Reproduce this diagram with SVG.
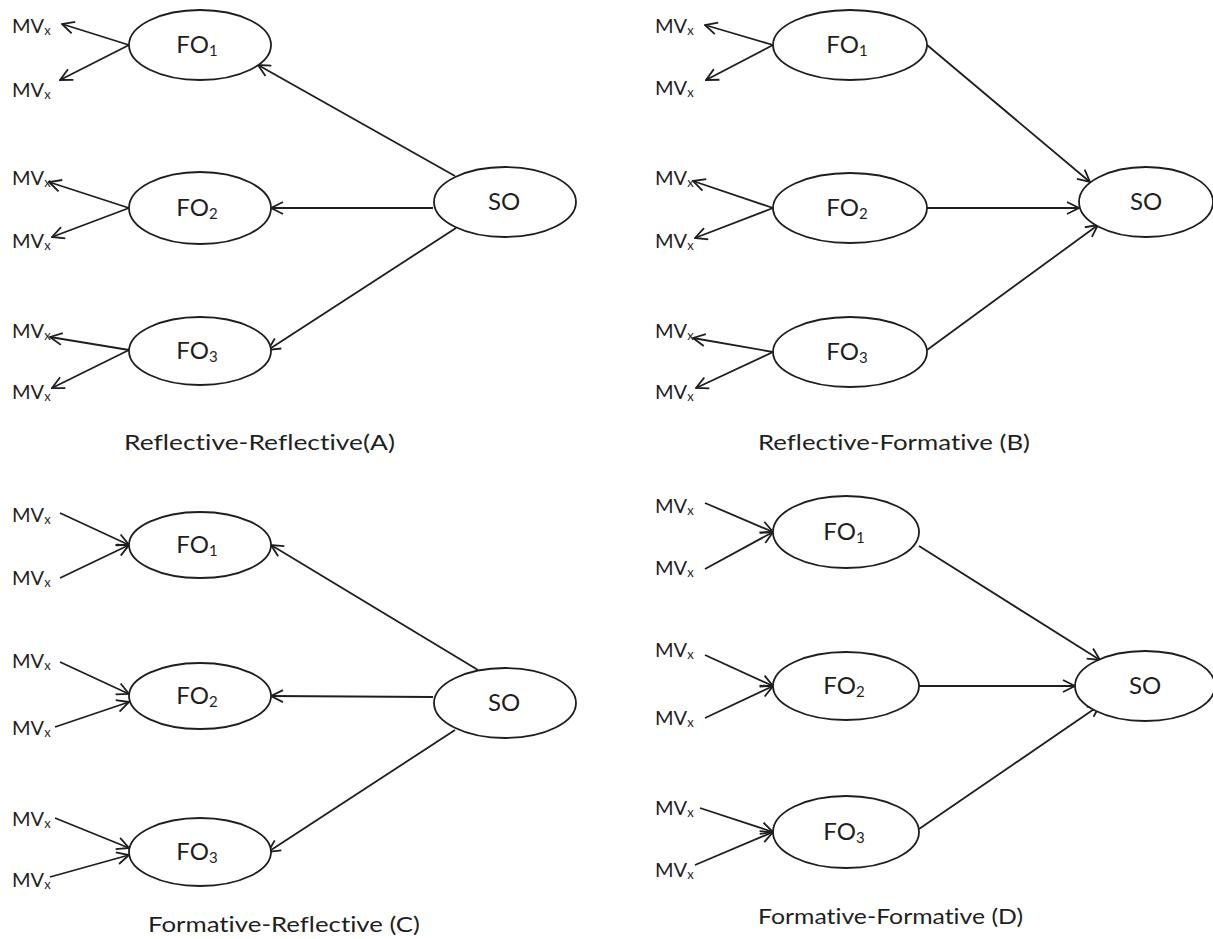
<svg xmlns="http://www.w3.org/2000/svg" width="1213" height="939" viewBox="0 0 1213 939">
  <style>
    .node { fill: #ffffff; stroke: #1e1e1e; stroke-width: 1.8; }
    .edge { stroke: #1e1e1e; stroke-width: 1.8; fill: none; marker-end: url(#arrow); }
    text { font-family: Lato, "Open Sans", "Liberation Sans", sans-serif; fill: #1f1f1f; font-variant-ligatures: none; }
    .lbl { font-size: 24px; }
    .mv { font-size: 20px; }
    .cap { font-size: 21px; }
    .sub { font-size: 15px; }
    .mv .sub { font-size: 13px; }
  </style>
  <defs>
    <marker id="arrow" markerUnits="userSpaceOnUse" viewBox="0 0 14 14" refX="13" refY="7" markerWidth="14" markerHeight="14" orient="auto">
      <path d="M1,1 L13,7 L1,13" fill="none" stroke="#1e1e1e" stroke-width="1.8"/>
    </marker>
  </defs>
  <rect width="1213" height="939" fill="#ffffff"/>

  <!-- connectors -->
  <g id="connectors">
    <!-- A: reflective first order, reflective second order -->
    <line class="edge" x1="129" y1="45" x2="62" y2="24"/>
    <line class="edge" x1="129" y1="45" x2="60" y2="80"/>
    <line class="edge" x1="129" y1="208" x2="49" y2="182"/>
    <line class="edge" x1="129" y1="208" x2="52" y2="237"/>
    <line class="edge" x1="129" y1="350" x2="50" y2="337"/>
    <line class="edge" x1="129" y1="350" x2="52" y2="388"/>
    <line class="edge" x1="455" y1="176" x2="258" y2="65"/>
    <line class="edge" x1="433" y1="208" x2="271" y2="208"/>
    <line class="edge" x1="456" y1="228" x2="268" y2="350"/>

    <!-- B: reflective first order, formative second order -->
    <line class="edge" x1="773" y1="45" x2="705" y2="25"/>
    <line class="edge" x1="773" y1="45" x2="706" y2="80"/>
    <line class="edge" x1="773" y1="208" x2="693" y2="181"/>
    <line class="edge" x1="773" y1="208" x2="695" y2="238"/>
    <line class="edge" x1="773" y1="352" x2="693" y2="338"/>
    <line class="edge" x1="773" y1="352" x2="696" y2="388"/>
    <line class="edge" x1="927" y1="45" x2="1090" y2="182"/>
    <line class="edge" x1="927" y1="208" x2="1079" y2="208"/>
    <line class="edge" x1="927" y1="350" x2="1098" y2="225"/>

    <!-- C: formative first order, reflective second order -->
    <line class="edge" x1="60" y1="513" x2="129" y2="545"/>
    <line class="edge" x1="60" y1="578" x2="129" y2="545"/>
    <line class="edge" x1="60" y1="662" x2="129" y2="694"/>
    <line class="edge" x1="55" y1="727" x2="129" y2="702"/>
    <line class="edge" x1="55" y1="818" x2="129" y2="848"/>
    <line class="edge" x1="50" y1="877" x2="129" y2="855"/>
    <line class="edge" x1="478" y1="670" x2="271" y2="545"/>
    <line class="edge" x1="433" y1="697" x2="271" y2="696"/>
    <line class="edge" x1="455" y1="730" x2="268" y2="852"/>

    <!-- D: formative first order, formative second order -->
    <line class="edge" x1="705" y1="503" x2="773" y2="532"/>
    <line class="edge" x1="705" y1="569" x2="773" y2="532"/>
    <line class="edge" x1="705" y1="655" x2="773" y2="686"/>
    <line class="edge" x1="705" y1="718" x2="773" y2="686"/>
    <line class="edge" x1="700" y1="808" x2="773" y2="832"/>
    <line class="edge" x1="695" y1="865" x2="773" y2="832"/>
    <line class="edge" x1="919" y1="546" x2="1100" y2="660"/>
    <line class="edge" x1="919" y1="686" x2="1075" y2="686"/>
    <line class="edge" x1="919" y1="829" x2="1100" y2="705"/>
  </g>

  <!-- Panel A -->
  <g id="a-fo1"><ellipse class="node" cx="200" cy="45" rx="71" ry="35"/><text class="lbl" x="197" y="53" text-anchor="middle">FO<tspan class="sub" dy="3">1</tspan></text></g>
  <g id="a-fo2"><ellipse class="node" cx="200" cy="208" rx="71" ry="36"/><text class="lbl" x="197" y="216" text-anchor="middle">FO<tspan class="sub" dy="3">2</tspan></text></g>
  <g id="a-fo3"><ellipse class="node" cx="200" cy="351" rx="71" ry="34"/><text class="lbl" x="197" y="359" text-anchor="middle">FO<tspan class="sub" dy="3">3</tspan></text></g>
  <g id="a-so"><ellipse class="node" cx="505" cy="202" rx="71" ry="35"/><text class="lbl" x="504" y="210" text-anchor="middle">SO</text></g>
  <g id="a-mv">
    <text class="mv" x="12" y="33">MV<tspan class="sub" dy="2">x</tspan></text>
    <text class="mv" x="12" y="97">MV<tspan class="sub" dy="2">x</tspan></text>
    <text class="mv" x="12" y="185">MV<tspan class="sub" dy="2">x</tspan></text>
    <text class="mv" x="12" y="248">MV<tspan class="sub" dy="2">x</tspan></text>
    <text class="mv" x="12" y="338">MV<tspan class="sub" dy="2">x</tspan></text>
    <text class="mv" x="12" y="399">MV<tspan class="sub" dy="2">x</tspan></text>
  </g>
  <text id="cap-a" class="cap" x="124" y="450" textLength="271" lengthAdjust="spacingAndGlyphs">Reflective-Reflective(A)</text>

  <!-- Panel B -->
  <g id="b-fo1"><ellipse class="node" cx="850" cy="45" rx="77" ry="35"/><text class="lbl" x="847" y="53" text-anchor="middle">FO<tspan class="sub" dy="3">1</tspan></text></g>
  <g id="b-fo2"><ellipse class="node" cx="850" cy="208" rx="77" ry="35"/><text class="lbl" x="847" y="216" text-anchor="middle">FO<tspan class="sub" dy="3">2</tspan></text></g>
  <g id="b-fo3"><ellipse class="node" cx="850" cy="352" rx="77" ry="35"/><text class="lbl" x="847" y="360" text-anchor="middle">FO<tspan class="sub" dy="3">3</tspan></text></g>
  <g id="b-so"><ellipse class="node" cx="1146" cy="202" rx="67" ry="35"/><text class="lbl" x="1146" y="210" text-anchor="middle">SO</text></g>
  <g id="b-mv">
    <text class="mv" x="655" y="33">MV<tspan class="sub" dy="2">x</tspan></text>
    <text class="mv" x="655" y="95">MV<tspan class="sub" dy="2">x</tspan></text>
    <text class="mv" x="655" y="185">MV<tspan class="sub" dy="2">x</tspan></text>
    <text class="mv" x="655" y="248">MV<tspan class="sub" dy="2">x</tspan></text>
    <text class="mv" x="655" y="338">MV<tspan class="sub" dy="2">x</tspan></text>
    <text class="mv" x="655" y="399">MV<tspan class="sub" dy="2">x</tspan></text>
  </g>
  <text id="cap-b" class="cap" x="758" y="450" textLength="272" lengthAdjust="spacingAndGlyphs">Reflective-Formative (B)</text>

  <!-- Panel C -->
  <g id="c-fo1"><ellipse class="node" cx="200" cy="545" rx="71" ry="33"/><text class="lbl" x="197" y="553" text-anchor="middle">FO<tspan class="sub" dy="3">1</tspan></text></g>
  <g id="c-fo2"><ellipse class="node" cx="200" cy="696" rx="71" ry="33"/><text class="lbl" x="197" y="704" text-anchor="middle">FO<tspan class="sub" dy="3">2</tspan></text></g>
  <g id="c-fo3"><ellipse class="node" cx="200" cy="852" rx="71" ry="34"/><text class="lbl" x="197" y="860" text-anchor="middle">FO<tspan class="sub" dy="3">3</tspan></text></g>
  <g id="c-so"><ellipse class="node" cx="505" cy="703" rx="71" ry="35"/><text class="lbl" x="504" y="711" text-anchor="middle">SO</text></g>
  <g id="c-mv">
    <text class="mv" x="12" y="522">MV<tspan class="sub" dy="2">x</tspan></text>
    <text class="mv" x="12" y="585">MV<tspan class="sub" dy="2">x</tspan></text>
    <text class="mv" x="12" y="668">MV<tspan class="sub" dy="2">x</tspan></text>
    <text class="mv" x="12" y="735">MV<tspan class="sub" dy="2">x</tspan></text>
    <text class="mv" x="12" y="826">MV<tspan class="sub" dy="2">x</tspan></text>
    <text class="mv" x="12" y="887">MV<tspan class="sub" dy="2">x</tspan></text>
  </g>
  <text id="cap-c" class="cap" x="148" y="932" textLength="272" lengthAdjust="spacingAndGlyphs">Formative-Reflective (C)</text>

  <!-- Panel D -->
  <g id="d-fo1"><ellipse class="node" cx="846" cy="532" rx="73" ry="36"/><text class="lbl" x="844" y="540" text-anchor="middle">FO<tspan class="sub" dy="3">1</tspan></text></g>
  <g id="d-fo2"><ellipse class="node" cx="846" cy="686" rx="73" ry="34"/><text class="lbl" x="844" y="694" text-anchor="middle">FO<tspan class="sub" dy="3">2</tspan></text></g>
  <g id="d-fo3"><ellipse class="node" cx="846" cy="832" rx="73" ry="36"/><text class="lbl" x="844" y="840" text-anchor="middle">FO<tspan class="sub" dy="3">3</tspan></text></g>
  <g id="d-so"><ellipse class="node" cx="1145" cy="686" rx="70" ry="35"/><text class="lbl" x="1145" y="694" text-anchor="middle">SO</text></g>
  <g id="d-mv">
    <text class="mv" x="655" y="513">MV<tspan class="sub" dy="2">x</tspan></text>
    <text class="mv" x="655" y="575">MV<tspan class="sub" dy="2">x</tspan></text>
    <text class="mv" x="655" y="657">MV<tspan class="sub" dy="2">x</tspan></text>
    <text class="mv" x="655" y="725">MV<tspan class="sub" dy="2">x</tspan></text>
    <text class="mv" x="655" y="815">MV<tspan class="sub" dy="2">x</tspan></text>
    <text class="mv" x="655" y="877">MV<tspan class="sub" dy="2">x</tspan></text>
  </g>
  <text id="cap-d" class="cap" x="758" y="924" textLength="265" lengthAdjust="spacingAndGlyphs">Formative-Formative (D)</text>
</svg>
